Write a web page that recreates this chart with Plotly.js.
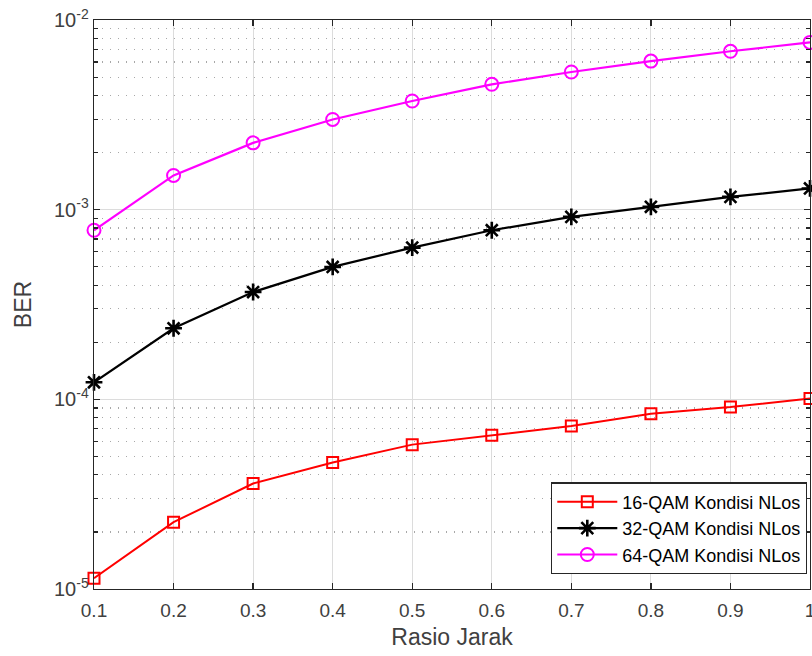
<!DOCTYPE html>
<html>
<head>
<meta charset="utf-8">
<script src="https://cdn.plot.ly/plotly-3.0.1.min.js"></script>
<style>html,body{margin:0;padding:0;background:#fff;}#chart{width:812px;height:656px;}</style>
</head>
<body>
<div id="chart"></div>
<script>
const rasioJarak = [0.1, 0.2, 0.3, 0.4, 0.5, 0.6, 0.7, 0.8, 0.9, 1.0];
const ber16 = [1.14e-5, 2.25e-5, 3.60e-5, 4.65e-5, 5.77e-5, 6.46e-5, 7.23e-5, 8.40e-5, 9.11e-5, 1.01e-4];
const ber32 = [1.23e-4, 2.37e-4, 3.68e-4, 4.99e-4, 6.31e-4, 7.79e-4, 9.16e-4, 1.035e-3, 1.168e-3, 1.294e-3];
const ber64 = [7.79e-4, 1.515e-3, 2.25e-3, 2.99e-3, 3.74e-3, 4.58e-3, 5.32e-3, 6.07e-3, 6.84e-3, 7.62e-3];
const seriesNames = ['16-QAM Kondisi NLos', '32-QAM Kondisi NLos', '64-QAM Kondisi NLos'];
const xTicks = [0.1, 0.2, 0.3, 0.4, 0.5, 0.6, 0.7, 0.8, 0.9, 1];
const xTickText = ['0.1', '0.2', '0.3', '0.4', '0.5', '0.6', '0.7', '0.8', '0.9', '1'];
const yTicks = [1e-5, 1e-4, 1e-3, 1e-2];
const yTickText = ['10<sup>-5</sup>', '10<sup>-4</sup>', '10<sup>-3</sup>', '10<sup>-2</sup>'];
const yMinorTicks = [2e-5, 3e-5, 4e-5, 5e-5, 6e-5, 7e-5, 8e-5, 9e-5,
                     2e-4, 3e-4, 4e-4, 5e-4, 6e-4, 7e-4, 8e-4, 9e-4,
                     2e-3, 3e-3, 4e-3, 5e-3, 6e-3, 7e-3, 8e-3, 9e-3];

const font = 'Liberation Sans, Arial, Helvetica, sans-serif';
const traces = [
  {x: rasioJarak, y: ber16, name: seriesNames[0], mode: 'lines+markers', cliponaxis: false,
   line: {color: '#ff0000', width: 2},
   marker: {symbol: 'square-open', size: 11, color: '#ff0000', line: {width: 2, color: '#ff0000'}}},
  {x: rasioJarak, y: ber32, name: seriesNames[1], mode: 'lines+markers', cliponaxis: false,
   line: {color: '#000000', width: 2.2},
   marker: {symbol: 'asterisk-open', size: 14, color: '#000000', line: {width: 2.6, color: '#000000'}}},
  {x: rasioJarak, y: ber64, name: seriesNames[2], mode: 'lines+markers', cliponaxis: false,
   line: {color: '#ff00ff', width: 2.2},
   marker: {symbol: 'circle-open', size: 13, color: '#ff00ff', line: {width: 2, color: '#ff00ff'}}}
];

const layout = {
  width: 812, height: 656,
  margin: {l: 94, r: 2, t: 20, b: 67},
  paper_bgcolor: '#ffffff', plot_bgcolor: '#ffffff',
  font: {family: font, color: '#262626', size: 15},
  showlegend: true,
  legend: {
    x: 0.9958, y: 0.026, xanchor: 'right', yanchor: 'bottom',
    bgcolor: '#ffffff', bordercolor: '#262626', borderwidth: 1.3,
    font: {family: font, size: 18, color: '#000000'},
    tracegroupgap: 0, itemwidth: 60
  },
  xaxis: {
    range: [0.1, 1], tickvals: xTicks, ticktext: xTickText, ticklabeloverflow: 'allow',
    ticks: 'inside', ticklen: 6, tickwidth: 1.3, tickcolor: '#262626',
    showline: true, linecolor: '#262626', linewidth: 1.3, mirror: 'allticks',
    showgrid: true, gridcolor: '#dcdcdc', gridwidth: 1,
    zeroline: false, ticklabelstandoff: 4,
    tickfont: {family: font, size: 19, color: '#404040'},
    title: {text: 'Rasio Jarak', font: {family: font, size: 23, color: '#404040'}, standoff: 8}
  },
  yaxis: {
    type: 'log', range: [-5, -2], tickmode: 'array', tickvals: yTicks, ticktext: yTickText,
    ticks: 'inside', ticklen: 6, tickwidth: 1.3, tickcolor: '#262626',
    showline: true, linecolor: '#262626', linewidth: 1.3, mirror: 'allticks',
    showgrid: true, gridcolor: '#dcdcdc', gridwidth: 1,
    zeroline: false,
    tickfont: {family: font, size: 20, color: '#404040'},
    minor: {tickmode: 'array', tickvals: yMinorTicks, ticks: 'inside', ticklen: 4,
            tickcolor: '#262626', tickwidth: 1.2, showgrid: true,
            gridcolor: '#a8a8a8', griddash: '1.2px,6.8px', gridwidth: 1.2},
    title: {text: 'BER', font: {family: font, size: 23, color: '#404040'}, standoff: 16}
  }
};

Plotly.newPlot('chart', traces, layout, {displayModeBar: false, staticPlot: true});
</script>
</body>
</html>
